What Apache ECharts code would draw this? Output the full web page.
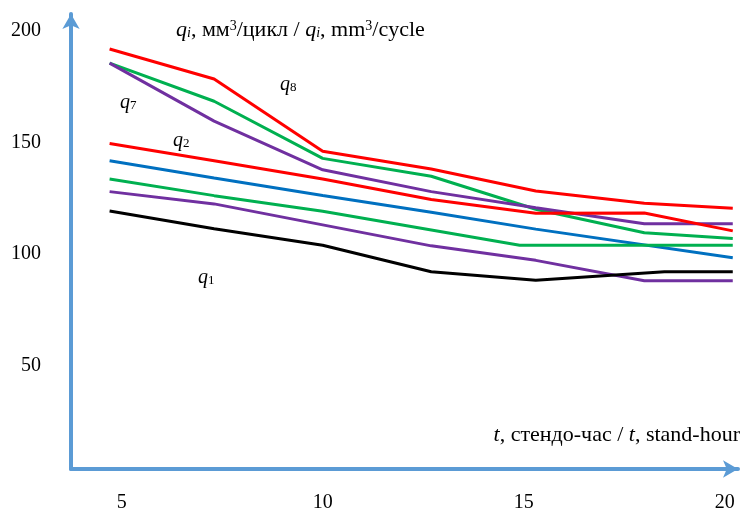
<!DOCTYPE html>
<html lang="ru">

<head>
  <meta charset="UTF-8">
  <title>q_i от t</title>
  <script src="https://cdn.jsdelivr.net/npm/echarts@6.0.0/dist/echarts.min.js"></script>
</head>

<body style="margin: 0;padding: 0;">
  <div id="main" style="width: 745px;height: 513px;"></div>
  <script>
    // tick labels
    var xTicks = [5, 10, 15, 20];
    var yTicks = [50, 100, 150, 200];

    // [t, q]
    var q8Red = [[4.7, 191.8], [7.3, 178.4], [10.0, 146.0], [12.7, 138.0], [15.3, 128.2], [18.0, 122.7], [20.2, 120.5]];
    var greenTop = [[4.7, 185.5], [7.3, 168.4], [10.0, 142.8], [12.7, 134.8], [15.3, 120.0], [18.0, 109.5], [20.2, 106.9]];
    var q7Purple = [[4.7, 185.5], [7.3, 159.5], [10.0, 137.7], [12.7, 127.9], [15.3, 120.7], [18.0, 113.5], [20.2, 113.5]];
    var q2Red = [[4.7, 149.5], [7.3, 141.7], [10.0, 133.6], [12.7, 124.4], [15.3, 118.2], [18.0, 118.3], [20.2, 110.3]];
    var blueLine = [[4.7, 141.7], [7.3, 134.0], [10.0, 126.2], [12.7, 118.7], [15.3, 111.1], [20.2, 98.3]];
    var greenLow = [[4.7, 133.6], [7.3, 126.1], [10.0, 119.1], [14.9, 103.9], [20.2, 103.9]];
    var purpleLow = [[4.7, 127.9], [7.3, 122.4], [12.7, 103.6], [15.3, 97.1], [18.0, 88.0], [20.2, 88.0]];
    var q1Black = [[4.7, 119.2], [7.3, 111.3], [10.0, 103.9], [12.7, 92.0], [15.3, 88.2], [18.5, 92.0], [20.2, 92.0]];

    var serif = 'Liberation Serif';
    var axisBlue = '#5B9BD5';

    var chart = echarts.init(document.getElementById('main'));

    function line(data, color) {
      return {
        type: 'line',
        data: data,
        showSymbol: false,
        lineStyle: { color: color, width: 3 },
        itemStyle: { color: color }
      };
    }

    function qLabel(left, top, n) {
      return {
        type: 'text',
        left: left,
        top: top,
        style: {
          text: '{q|q}{s|' + n + '}',
          rich: {
            q: { fontFamily: serif, fontStyle: 'italic', fontSize: 20, fill: '#000' },
            s: { fontFamily: serif, fontSize: 13, fill: '#000', padding: [6, 0, 0, 0] }
          }
        }
      };
    }

    var option = {
      animation: false,
      backgroundColor: '#fff',
      grid: { left: 71, right: 7, top: 14, bottom: 41 },
      xAxis: {
        type: 'value',
        min: 3.74,
        max: 20.33,
        splitLine: { show: false },
        axisTick: { show: false },
        axisLine: {
          onZero: false,
          symbol: ['none', 'arrow'],
          symbolSize: [13, 15],
          lineStyle: { color: axisBlue, width: 4 }
        },
        axisLabel: {
          customValues: xTicks,
          margin: 24,
          fontFamily: serif,
          fontSize: 20,
          color: '#000'
        }
      },
      yAxis: {
        type: 'value',
        min: 3.6,
        max: 207.5,
        splitLine: { show: false },
        axisTick: { show: false },
        axisLine: {
          show: true,
          symbol: ['none', 'arrow'],
          symbolSize: [13, 15],
          lineStyle: { color: axisBlue, width: 4 }
        },
        axisLabel: {
          customValues: yTicks,
          margin: 30,
          fontFamily: serif,
          fontSize: 20,
          color: '#000'
        }
      },
      graphic: [
        {
          type: 'text',
          left: 176,
          top: 19,
          style: {
            text: '{i|q}{s|i}{n|, мм}{p|3}{n|/цикл / }{i|q}{s|i}{n|, mm}{p|3}{n|/cycle}',
            rich: {
              i: { fontFamily: serif, fontStyle: 'italic', fontSize: 22, fill: '#000' },
              s: { fontFamily: serif, fontStyle: 'italic', fontSize: 14, fill: '#000', padding: [6, 0, 0, 0] },
              n: { fontFamily: serif, fontSize: 22, fill: '#000' },
              p: { fontFamily: serif, fontSize: 14, fill: '#000', padding: [0, 0, 9, 0] }
            }
          }
        },
        {
          type: 'text',
          right: 5,
          top: 424,
          style: {
            text: '{i|t}{n|, стендо-час / }{i|t}{n|, stand-hour}',
            rich: {
              i: { fontFamily: serif, fontStyle: 'italic', fontSize: 22, fill: '#000' },
              n: { fontFamily: serif, fontSize: 22, fill: '#000' }
            }
          }
        },
        qLabel(120, 93, 7),
        qLabel(280, 75, 8),
        qLabel(173, 131, 2),
        qLabel(198, 268, 1)
      ],
      series: [
        line(q8Red, '#FF0000'),
        line(greenTop, '#00B050'),
        line(q7Purple, '#7030A0'),
        line(q2Red, '#FF0000'),
        line(blueLine, '#0070C0'),
        line(greenLow, '#00B050'),
        line(purpleLow, '#7030A0'),
        line(q1Black, '#000000')
      ]
    };

    chart.setOption(option);
  </script>
</body>

</html>
